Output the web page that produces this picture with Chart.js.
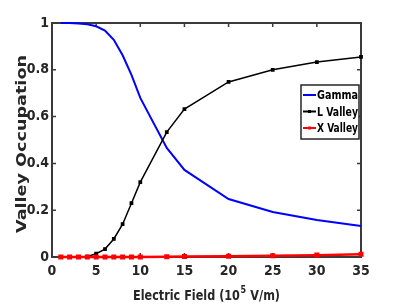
<!DOCTYPE html>
<html>
<head>
<meta charset="utf-8">
<script src="https://cdn.jsdelivr.net/npm/chart.js@4.4.0/dist/chart.umd.min.js"></script>
<style>
  html, body { margin: 0; padding: 0; background: #fff; }
  #wrap { width: 399px; height: 307px; }
</style>
</head>
<body>
<div id="wrap"><canvas id="valleyChart" width="399" height="307"></canvas></div>
<script>
// Electric field points (10^5 V/m)
const fieldValues = [1, 2, 3, 4, 5, 6, 7, 8, 9, 10, 13, 15, 20, 25, 30, 35];
const gammaValues = [1.0, 1.0, 0.998, 0.995, 0.986, 0.968, 0.928, 0.862, 0.778, 0.68, 0.466, 0.372, 0.248, 0.192, 0.158, 0.132];
const lValleyValues = [0, 0, 0, 0.002, 0.014, 0.034, 0.077, 0.14, 0.23, 0.32, 0.534, 0.632, 0.748, 0.8, 0.833, 0.855];
const xValleyValues = [0, 0, 0, 0, 0, 0, 0, 0, 0, 0, 0.001, 0.002, 0.003, 0.005, 0.008, 0.012];
const xTicks = [0, 5, 10, 15, 20, 25, 30, 35];
const yTicks = [0, 0.2, 0.4, 0.6, 0.8, 1];

const seriesNames = ['Gamma', 'L Valley', 'X Valley'];
const seriesColors = ['#0000ff', '#000000', '#ff0000'];

function toPoints(ys) {
  return fieldValues.map((x, i) => ({ x: x, y: ys[i] }));
}

const condFamily = "'DejaVu Sans Condensed', 'DejaVu Sans', sans-serif";

// draw text squeezed/stretched to a target width
function fitText(ctx, text, x, y, targetW) {
  const w = ctx.measureText(text).width;
  ctx.save();
  ctx.translate(x, y);
  ctx.scale(targetW / w, 1);
  ctx.fillText(text, 0, 0);
  ctx.restore();
}

// frame, inward ticks, axis titles (under the lines)
const framePlugin = {
  id: 'frame',
  beforeDatasetsDraw(chart) {
    const ctx = chart.ctx;
    const a = chart.chartArea;
    const xs = chart.scales.x;
    const ys = chart.scales.y;
    ctx.save();
    ctx.strokeStyle = '#3a3a3a';
    ctx.lineWidth = 2;
    ctx.strokeRect(a.left, a.top, a.right - a.left, a.bottom - a.top);
    ctx.lineWidth = 1.5;
    ctx.beginPath();
    xTicks.forEach(v => {
      const px = xs.getPixelForValue(v);
      ctx.moveTo(px, a.bottom); ctx.lineTo(px, a.bottom - 4);
      ctx.moveTo(px, a.top); ctx.lineTo(px, a.top + 4);
    });
    yTicks.forEach(v => {
      const py = ys.getPixelForValue(v);
      ctx.moveTo(a.left, py); ctx.lineTo(a.left + 4, py);
      ctx.moveTo(a.right, py); ctx.lineTo(a.right - 4, py);
    });
    ctx.stroke();

    // x axis title with superscript
    ctx.fillStyle = '#262626';
    ctx.textBaseline = 'alphabetic';
    ctx.textAlign = 'left';
    const p1 = 'Electric Field (10', sup = '5', p2 = ' V/m)';
    const big = 'bold 14px ' + condFamily, small = 'bold 10px ' + condFamily;
    ctx.font = big;
    const w1 = ctx.measureText(p1).width;
    const w2 = ctx.measureText(p2).width;
    ctx.font = small;
    const ws = ctx.measureText(sup).width;
    const total = w1 + ws + w2 + 1;
    const sx = 147 / total;
    ctx.save();
    ctx.translate(133, 300);
    ctx.scale(sx, 1);
    ctx.font = big;
    ctx.fillText(p1, 0, 0);
    ctx.font = small;
    ctx.fillText(sup, w1 + 0.5, -7);
    ctx.font = big;
    ctx.fillText(p2, w1 + ws + 1, 0);
    ctx.restore();

    // y axis title
    ctx.save();
    ctx.translate(22, (55 + 233) / 2);
    ctx.rotate(-Math.PI / 2);
    ctx.textBaseline = 'middle';
    ctx.font = "bold 14px 'DejaVu Sans', sans-serif";
    const yt = 'Valley Occupation';
    const wy = ctx.measureText(yt).width;
    ctx.scale(178 / wy, 1);
    ctx.textAlign = 'center';
    ctx.fillText(yt, 0, 0);
    ctx.restore();
    ctx.restore();
  },
  // legend on top of the lines
  afterDatasetsDraw(chart) {
    const ctx = chart.ctx;
    ctx.save();
    const lx = 301, ly = 85, lw = 58, lh = 54;
    ctx.fillStyle = '#ffffff';
    ctx.fillRect(lx, ly, lw, lh);
    ctx.strokeStyle = '#262626';
    ctx.lineWidth = 1.5;
    ctx.strokeRect(lx, ly, lw, lh);
    ctx.font = 'bold 13px ' + condFamily;
    ctx.textAlign = 'left';
    ctx.textBaseline = 'middle';
    seriesNames.forEach((name, i) => {
      const ry = ly + 10 + i * 16.5;
      ctx.strokeStyle = seriesColors[i];
      ctx.lineWidth = 2;
      ctx.beginPath();
      ctx.moveTo(lx + 2, ry); ctx.lineTo(lx + 15, ry);
      ctx.stroke();
      if (i > 0) {
        ctx.fillStyle = seriesColors[i];
        ctx.fillRect(lx + 7, ry - 1.5, 3, 3);
      }
      ctx.fillStyle = '#000000';
      const nw = ctx.measureText(name).width;
      fitText(ctx, name, lx + 16, ry + 1, Math.min(nw, lw - 17));
    });
    ctx.restore();
  }
};

const ctx = document.getElementById('valleyChart').getContext('2d');
const valleyChart = new Chart(ctx, {
  type: 'line',
  data: {
    datasets: [
      {
        label: 'X Valley',
        data: toPoints(xValleyValues),
        borderColor: '#ff0000',
        backgroundColor: '#ff0000',
        borderWidth: 2.5,
        pointStyle: 'rect',
        pointRadius: 1.8,
        clip: false,
        order: 0
      },
      {
        label: 'L Valley',
        data: toPoints(lValleyValues),
        borderColor: '#000000',
        backgroundColor: '#000000',
        borderWidth: 1.5,
        pointStyle: 'rect',
        pointRadius: 1.6,
        clip: false,
        order: 1
      },
      {
        label: 'Gamma',
        data: toPoints(gammaValues),
        borderColor: '#0000ff',
        backgroundColor: '#0000ff',
        borderWidth: 2,
        pointRadius: 0,
        clip: false,
        order: 2
      }
    ]
  },
  options: {
    responsive: false,
    animation: false,
    layout: { padding: { left: 0, right: 38, top: 23, bottom: 0 } },
    plugins: {
      legend: { display: false },
      tooltip: { enabled: false }
    },
    scales: {
      x: {
        type: 'linear',
        min: 0,
        max: 35,
        afterBuildTicks: scale => { scale.ticks = xTicks.map(v => ({ value: v })); },
        afterFit: scale => { scale.height = 50; },
        grid: { display: false, drawTicks: false },
        border: { display: false },
        ticks: {
          color: '#262626',
          padding: 6,
          maxRotation: 0,
          font: { family: condFamily, weight: 'bold', size: 14 }
        }
      },
      y: {
        type: 'linear',
        min: 0,
        max: 1,
        afterBuildTicks: scale => { scale.ticks = yTicks.map(v => ({ value: v })); },
        afterFit: scale => { scale.width = 52; },
        grid: { display: false, drawTicks: false },
        border: { display: false },
        ticks: {
          color: '#262626',
          padding: 3,
          callback: v => String(Math.round(v * 10) / 10),
          font: { family: condFamily, weight: 'bold', size: 14 }
        }
      }
    }
  },
  plugins: [framePlugin]
});
</script>
</body>
</html>
